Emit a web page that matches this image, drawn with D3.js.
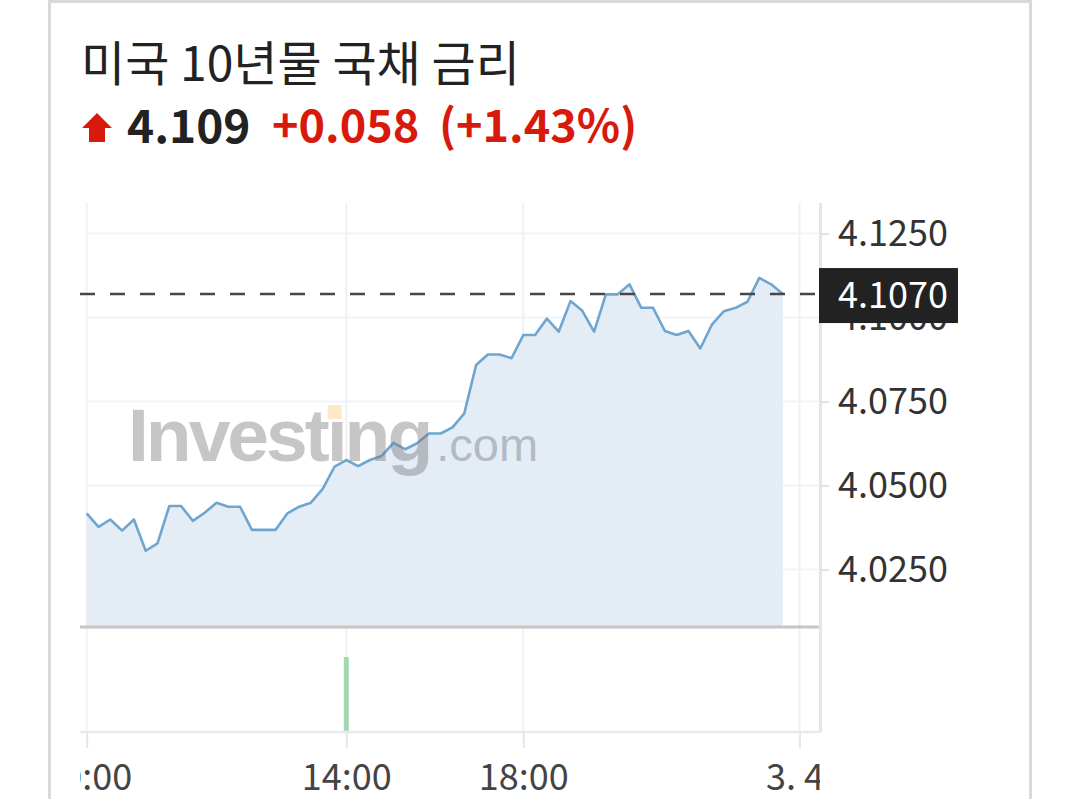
<!DOCTYPE html>
<html><head><meta charset="utf-8">
<script src="https://cdn.jsdelivr.net/npm/d3@7"></script>
<style>
html,body{margin:0;padding:0;background:#fff;overflow:hidden;}
svg{display:block;}
</style></head><body>
<svg id="c" width="1080" height="799"></svg>
<script>
// ---- data ----
const title = "미국 10년물 국채 금리";
const lastPrice = "4.109";
const changeAbs = "+0.058";
const changePct = "(+1.43%)";
const currentValue = 4.107;
const currentLabel = "4.1070";
const yields = [
  4.0417, 4.0377, 4.0399, 4.0366, 4.0399, 4.0306, 4.0328, 4.0439, 4.0439, 4.0395,
  4.0419, 4.0449, 4.0437, 4.0437, 4.0368, 4.0368, 4.0368, 4.0417, 4.0437, 4.0449,
  4.0490, 4.0556, 4.0576, 4.0558, 4.0576, 4.0588, 4.0627, 4.0608, 4.0626, 4.0655,
  4.0655, 4.0673, 4.0715, 4.0859, 4.0890, 4.0890, 4.0879, 4.0948, 4.0948, 4.0997,
  4.0958, 4.1049, 4.1020, 4.0958, 4.1069, 4.1069, 4.1099, 4.1029, 4.1029, 4.0960,
  4.0948, 4.0960, 4.0908, 4.0980, 4.1019, 4.1029, 4.1047, 4.1118, 4.1099, 4.1070
];
const yTicks = [4.025, 4.05, 4.075, 4.1, 4.125];
const xTickIndex = [0, 22, 37, 60.4];
const xTickLabels = ["10:00", "14:00", "18:00", "3. 4."];
const volumeIndex = [22];
const volumeValue = [1];

// ---- layout ----
const svg = d3.select("#c");
const L = 80, R = 820, T = 203, priceB = 627, volB = 732;
const x = d3.scaleLinear().domain([0, yields.length - 1]).range([86.7, 782.9]);
const y = d3.scaleLinear().domain([4.0079, 4.1341]).range([priceB, T]);
const yv = d3.scaleLinear().domain([0, 1.4]).range([volB, priceB]);
const cjk = "'Noto Sans CJK KR','Noto Sans',sans-serif";

// card border
svg.append("rect").attr("x", 49.5).attr("y", 1.5).attr("width", 981).attr("height", 820)
  .attr("fill", "#fff").attr("stroke", "#d9d9d9").attr("stroke-width", 3);

// header
svg.append("text").attr("x", 81).attr("y", 81).text(title)
  .attr("font-family", cjk).attr("font-size", 48).attr("fill", "#222");
svg.append("path").attr("d", "M97,113 L112,128 L105,128 L105,142 L89,142 L89,128 L82,128 Z")
  .attr("fill", "#d71a0b");
svg.append("text").attr("x", 127).attr("y", 143).text(lastPrice)
  .attr("font-family", cjk).attr("font-weight", 700).attr("font-size", 46).attr("fill", "#222");
svg.append("text").attr("x", 272).attr("y", 142)
  .attr("font-family", cjk).attr("font-weight", 700).attr("font-size", 45).attr("fill", "#d71a0b")
  .text(changeAbs);
svg.append("text").attr("x", 439).attr("y", 142)
  .attr("font-family", cjk).attr("font-weight", 700).attr("font-size", 45).attr("fill", "#d71a0b")
  .text(changePct);

// gridlines
const grid = svg.append("g");
grid.selectAll("line.h").data(yTicks).join("line")
  .attr("x1", 86).attr("x2", R).attr("y1", d => y(d)).attr("y2", d => y(d))
  .attr("stroke", "#f2f3f5").attr("stroke-width", 2);
grid.selectAll("line.v").data(xTickIndex).join("line")
  .attr("x1", d => x(d)).attr("x2", d => x(d)).attr("y1", T).attr("y2", volB)
  .attr("stroke", "#eff1f4").attr("stroke-width", 2);

// area + line
svg.append("path").datum(yields)
  .attr("d", d3.area().x((d, i) => x(i)).y0(priceB).y1(d => y(d)))
  .attr("fill", "#e4ecf5");
svg.append("path").datum(yields)
  .attr("d", d3.line().x((d, i) => x(i)).y(d => y(d)))
  .attr("fill", "none").attr("stroke", "#6fa6cf").attr("stroke-width", 2.6)
  .attr("stroke-linejoin", "round");

// watermark
const wm = svg.append("g").attr("opacity", 0.42);
const wmText = wm.append("text").attr("x", 128).attr("y", 461)
  .attr("font-family", "'Liberation Sans',Arial,sans-serif");
wmText.append("tspan").text("Investıng").attr("font-weight", 700).attr("font-size", 75)
  .attr("letter-spacing", -3).attr("fill", "#7a7a7a");
wmText.append("tspan").text(".com").attr("font-weight", 400).attr("font-size", 47)
  .attr("letter-spacing", 0).attr("fill", "#6f7780").attr("dx", 6);
const ext = wmText.node().getExtentOfChar(6);
svg.append("rect").attr("x", ext.x + 1).attr("y", 405).attr("width", Math.max(10, ext.width - 4)).attr("height", 14)
  .attr("fill", "#fbd79a").attr("opacity", 0.55);

// price pane bottom line, volume pane
svg.append("line").attr("x1", L).attr("x2", R).attr("y1", priceB).attr("y2", priceB)
  .attr("stroke", "#c6c6c6").attr("stroke-width", 3);
svg.selectAll("rect.vol").data(volumeIndex).join("rect")
  .attr("x", d => x(d) - 2.5).attr("width", 5)
  .attr("y", (d, i) => yv(volumeValue[i])).attr("height", (d, i) => volB - yv(volumeValue[i]))
  .attr("fill", "#a2d8b2");
svg.append("line").attr("x1", L).attr("x2", R).attr("y1", volB).attr("y2", volB)
  .attr("stroke", "#e6e9ee").attr("stroke-width", 2.5);
svg.append("line").attr("x1", R + 0.5).attr("x2", R + 0.5).attr("y1", T).attr("y2", volB)
  .attr("stroke", "#e3e6ec").attr("stroke-width", 3);

// y axis
const yAxis = svg.append("g").attr("transform", `translate(${R + 1},0)`)
  .call(d3.axisRight(y).tickValues(yTicks).tickFormat(d3.format(".4f")).tickSize(8).tickPadding(9));
yAxis.select(".domain").remove();
yAxis.selectAll(".tick line").attr("stroke", "#dde1e6").attr("stroke-width", 2);
yAxis.selectAll(".tick text").attr("font-family", cjk).attr("font-size", 36).attr("fill", "#333");

// x axis (clipped to the plot width)
svg.append("clipPath").attr("id", "xclip")
  .append("rect").attr("x", L).attr("y", volB).attr("width", R - L).attr("height", 80);
const xOuter = svg.append("g").attr("clip-path", "url(#xclip)");
const xAxis = xOuter.append("g").attr("transform", `translate(0,${volB})`)
  .call(d3.axisBottom(x).tickValues(xTickIndex).tickFormat((d, i) => xTickLabels[i]).tickSize(16));
xAxis.select(".domain").remove();
xAxis.selectAll(".tick line").attr("stroke", "#e3e6ec").attr("stroke-width", 2);
xAxis.selectAll(".tick text").attr("y", 32).attr("font-family", cjk).attr("font-size", 36).attr("fill", "#444");

// current value dashed line and label
svg.append("line").attr("x1", L).attr("x2", R).attr("y1", y(currentValue)).attr("y2", y(currentValue))
  .attr("stroke", "#474747").attr("stroke-width", 2.5).attr("stroke-dasharray", "15,15");
svg.append("rect").attr("x", R - 1).attr("y", y(currentValue) - 26).attr("width", 139).attr("height", 55)
  .attr("fill", "#222");
svg.append("text").attr("x", 838).attr("y", y(currentValue) + 1).attr("dy", "0.36em")
  .attr("font-family", cjk).attr("font-size", 36).attr("fill", "#fff").text(currentLabel);
</script>
</body></html>
